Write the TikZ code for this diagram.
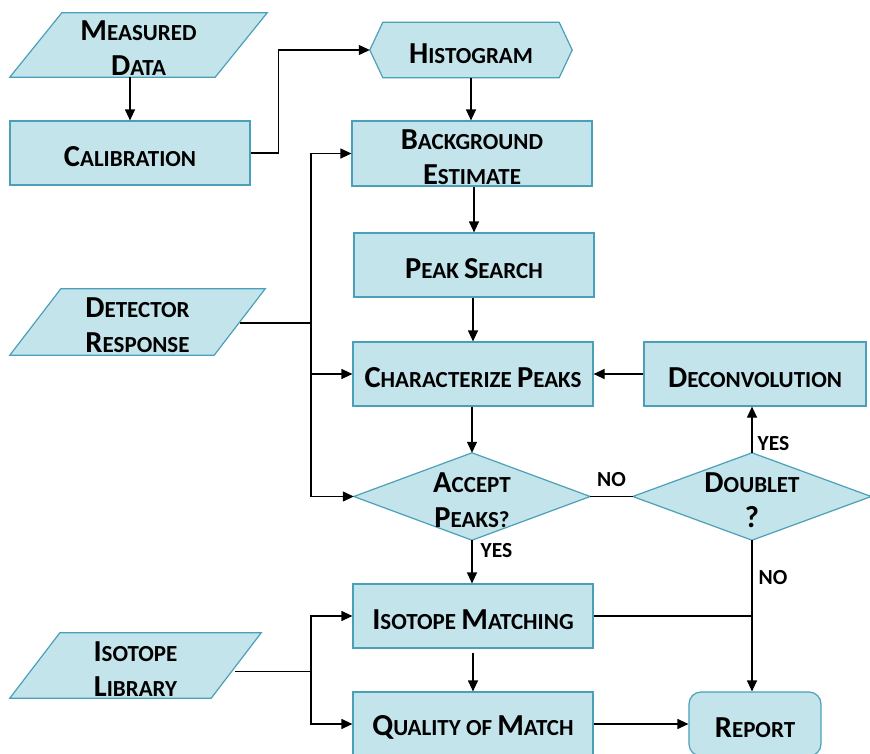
\documentclass[tikz,border=0pt]{standalone}
\usepackage{fontspec}
\setmainfont{Carlito}
\usetikzlibrary{arrows.meta,calc}
\pgfdeclarelayer{bg}
\pgfsetlayers{bg,main}
\definecolor{boxfill}{RGB}{196,228,236}
\definecolor{boxline}{RGB}{75,160,185}
\newcommand\Sc[2]{{\fontsize{30.5}{32}\selectfont #1}{\fontsize{23}{26}\selectfont #2}}
\tikzset{
  txt/.style={font=\bfseries\fontsize{23}{35}\selectfont, align=center, inner sep=0pt},
  frame/.style={inner sep=0pt, label={[txt, yshift=-3.5pt]center:{#1}}},
  box/.style={frame=#1, draw=boxline, fill=boxfill, line width=1.2pt, minimum width=240pt, minimum height=64pt},
  shapedraw/.style={draw=boxline, fill=boxfill, line width=1.2pt, line join=miter},
  arr/.style={line width=1.2pt, -{Triangle[length=11pt,width=10pt]}},
  ln/.style={line width=1.2pt},
  lbl/.style={font=\bfseries\fontsize{21.5}{24}\selectfont, inner sep=0pt}
}
\begin{document}
\begin{tikzpicture}[x=1pt,y=-1pt]
\useasboundingbox (0,0) rectangle (870,753);
\clip (0,0) rectangle (870,753);
% nodes
\node[frame={\Sc{M}{EASURED}\\\Sc{D}{ATA}}, minimum width=257pt, minimum height=64pt] (md) at (138.5,45) {};
\node[box={\Sc{C}{ALIBRATION}}] (cal) at (130,153) {};
\node[frame={\Sc{H}{ISTOGRAM}}, minimum width=202pt, minimum height=55pt] (hist) at (471,50) {};
\node[box={\Sc{B}{ACKGROUND}\\\Sc{E}{STIMATE}}, minimum height=65pt] (bg) at (472,153.5) {};
\node[box={\Sc{P}{EAK} \Sc{S}{EARCH}}] (ps) at (474,265) {};
\node[frame={\Sc{D}{ETECTOR}\\\Sc{R}{ESPONSE}}, minimum width=255pt, minimum height=66pt] (det) at (137.5,322) {};
\node[box={\Sc{C}{HARACTERIZE} \Sc{P}{EAKS}}] (cp) at (473,374) {};
\node[box={\Sc{D}{ECONVOLUTION}}, minimum width=222pt] (dec) at (755,374) {};
\node[frame={\Sc{A}{CCEPT}\\\Sc{P}{EAKS?}}, minimum width=236pt, minimum height=87pt] (acc) at (472,496.5) {};
\node[frame={\Sc{D}{OUBLET}\\\Sc{?}{}}, minimum width=238pt, minimum height=87pt] (dbl) at (752,496.5) {};
\node[box={\Sc{I}{SOTOPE} \Sc{M}{ATCHING}}] (im) at (473,616) {};
\node[frame={\Sc{I}{SOTOPE}\\\Sc{L}{IBRARY}}, minimum width=251pt, minimum height=65pt] (il) at (135.5,665.5) {};
\node[box={\Sc{Q}{UALITY OF} \Sc{M}{ATCH}}] (qm) at (473,724) {};
\node[box={\Sc{R}{EPORT}}, minimum width=132pt, rounded corners=12pt] (rep) at (755,724) {};
% non-rectangular shapes
\begin{pgfonlayer}{bg}
\draw[shapedraw] (md.south west) -- ($(md.north west)+(52,0)$) -- (md.north east) -- ($(md.south east)-(52,0)$) -- cycle;
\draw[shapedraw] (det.south west) -- ($(det.north west)+(51,0)$) -- (det.north east) -- ($(det.south east)-(51,0)$) -- cycle;
\draw[shapedraw] (il.south west) -- ($(il.north west)+(50,0)$) -- (il.north east) -- ($(il.south east)-(50,0)$) -- cycle;
\draw[shapedraw] (hist.west) -- ($(hist.north west)+(13,0)$) -- ($(hist.north east)-(13,0)$) -- (hist.east) -- ($(hist.south east)-(13,0)$) -- ($(hist.south west)+(13,0)$) -- cycle;
\draw[shapedraw] (acc.west) -- (acc.north) -- (acc.east) -- (acc.south) -- cycle;
\draw[shapedraw] (dbl.west) -- (dbl.north) -- (dbl.east) -- (dbl.south) -- cycle;
\end{pgfonlayer}
% connectors
\coordinate (trunk) at (311,0);
\draw[arr] (cal.north |- md.south) -- (cal.north);
\draw[arr] (cal.east) -- ++(28,0) |- (hist.west);
\draw[arr] (hist.south) -- (hist.south |- bg.north);
\draw[arr] (ps.north |- bg.south) -- (ps.north);
\draw[arr] (ps.south -| cp.north) -- (cp.north);
\draw[arr] (dec.west) -- (cp.east);
\draw[arr] (cp.south -| acc.north) -- (acc.north);
\draw[ln] (acc.east) -- node[lbl, above=9pt] {NO} (dbl.west);
\draw[arr] (dbl.north) -- node[lbl, right=5pt, pos=0.2] {YES} (dbl.north |- dec.south);
\draw[arr] (acc.south) -- node[lbl, right=8pt, pos=0.25] {YES} (acc.south |- im.north);
\draw[arr] (dbl.south) -- node[lbl, right=6pt, pos=0.25] {NO} (dbl.south |- rep.north);
\draw[ln] (im.east) -- (dbl.south |- im.east);
\draw[arr] (im.south) ++(0,4) -- (qm.north);
\draw[arr] (qm.east) -- (rep.west);
% detector response trunk
\coordinate (detR) at ($(det.east)+(-25,1)$);
\draw[ln] (detR) -- (detR -| trunk);
\draw[arr] (detR -| trunk) |- (bg.west);
\draw[arr] (detR -| trunk) |- (acc.west);
\draw[arr] (trunk |- cp.west) -- (cp.west);
% isotope library
\coordinate (ilR) at ($(il.east)+(-26,6)$);
\draw[ln] (ilR) -- (ilR -| trunk);
\draw[arr] (ilR -| trunk) |- (im.west);
\draw[arr] (ilR -| trunk) |- (qm.west);
\end{tikzpicture}
\end{document}
